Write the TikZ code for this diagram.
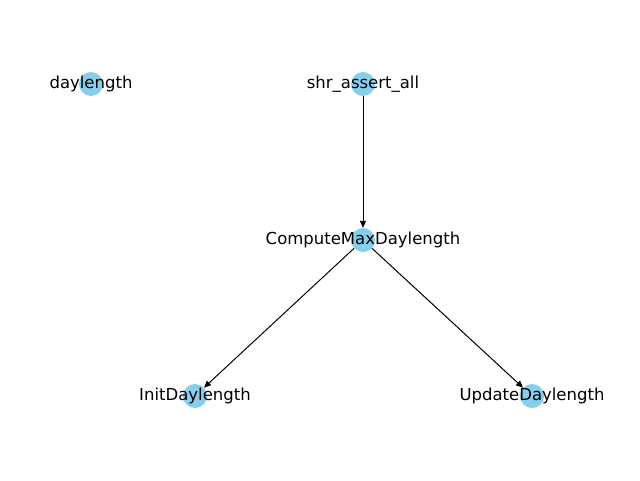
\documentclass[tikz,border=0pt]{standalone}
\usepackage{fontspec}
\setmainfont{DejaVu Sans}
\usetikzlibrary{arrows.meta}
\definecolor{skyblue}{RGB}{135,206,235}
\begin{document}
\begin{tikzpicture}[x=1pt,y=-1pt,
  vertex/.style={circle,fill=skyblue,draw=none,minimum size=24pt,inner sep=0pt},
  lbl/.style={inner sep=0pt,font=\fontsize{16.5}{20}\selectfont},
  edge/.style={draw=black,line width=1pt,-{Triangle[length=7pt,width=6pt]},shorten >=0pt}]
\useasboundingbox (0,0) rectangle (640,480);
\node[vertex] (d) at (91,84) {};
\node[vertex] (s) at (363,84) {};
\node[vertex] (c) at (363,240) {};
\node[vertex] (i) at (195,396) {};
\node[vertex] (u) at (532,396) {};
\draw[edge] (s) -- (c);
\draw[edge] (c) -- (i);
\draw[edge] (c) -- (u);
\node[lbl] (dl) at (91,84) {daylength};
\node[lbl] (sl) at (363,84) {shr\_assert\_all};
\node[lbl] (cl) at (363,240) {ComputeMaxDaylength};
\node[lbl] (il) at (195,396) {InitDaylength};
\node[lbl] (ul) at (532,396) {UpdateDaylength};
\end{tikzpicture}
\end{document}
